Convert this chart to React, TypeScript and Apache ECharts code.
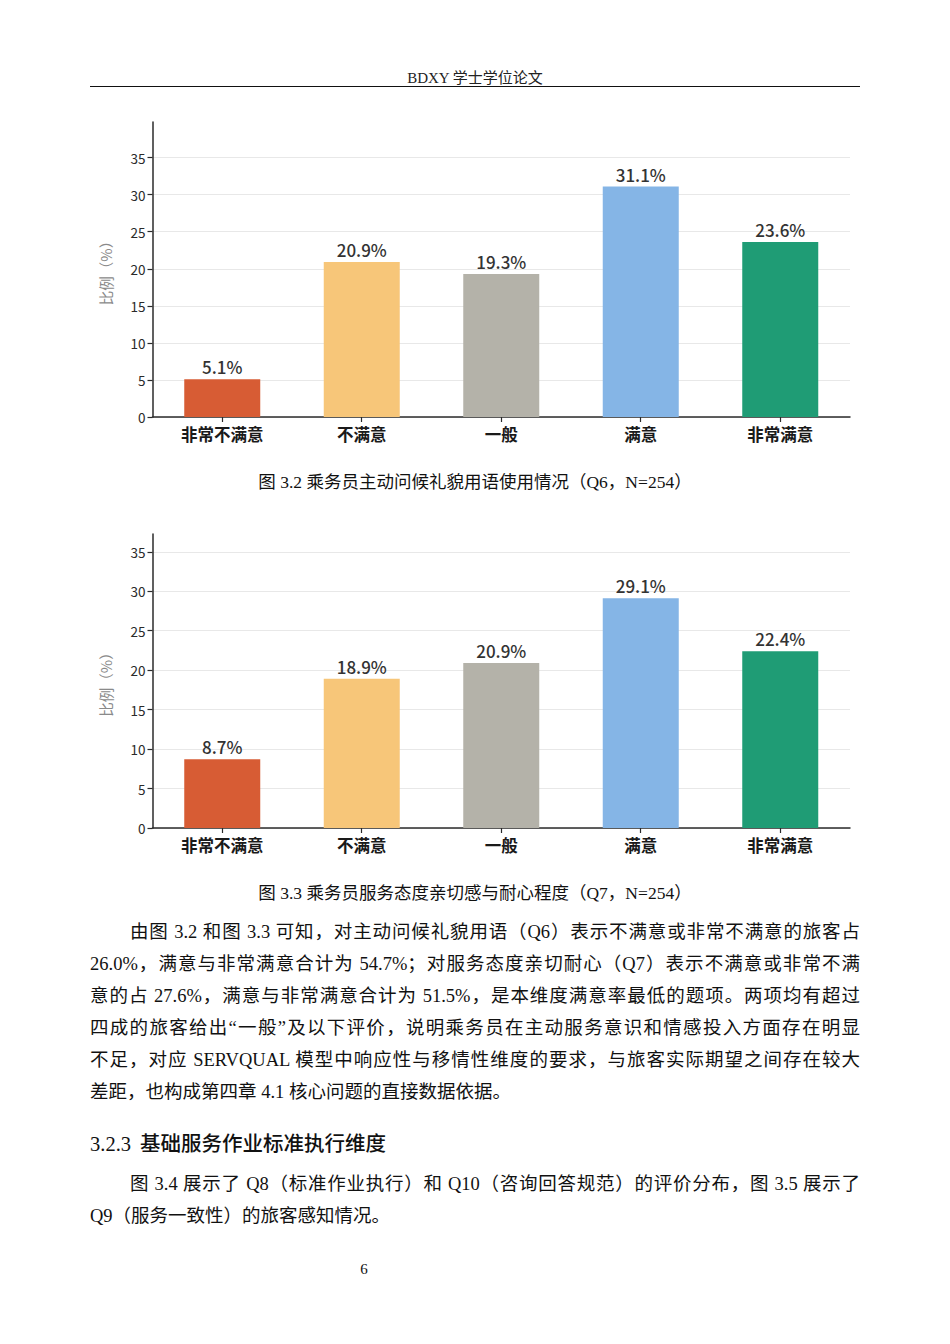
import React, { useEffect, useRef } from 'react';
import * as echarts from 'echarts';

const categories = ['非常不满意', '不满意', '一般', '满意', '非常满意'];
const q6Values = [5.1, 20.9, 19.3, 31.1, 23.6];
const q7Values = [8.7, 18.9, 20.9, 29.1, 22.4];
const barColors = ['#D75C34', '#F7C679', '#B4B2A9', '#85B5E6', '#1F9C75'];
const yTickValues = [0, 5, 10, 15, 20, 25, 30, 35];
const q6AxisMax = 39.8;
const q7AxisMax = 37.25;

const SANS = '"Noto Sans CJK SC", "Noto Sans", sans-serif';
const SERIF = '"Liberation Serif", "Noto Sans CJK SC", serif';

const paragraph1 = [
  '由图 3.2 和图 3.3 可知，对主动问候礼貌用语（Q6）表示不满意或非常不满意的旅客占',
  '26.0%，满意与非常满意合计为 54.7%；对服务态度亲切耐心（Q7）表示不满意或非常不满',
  '意的占 27.6%，满意与非常满意合计为 51.5%，是本维度满意率最低的题项。两项均有超过',
  '四成的旅客给出“一般”及以下评价，说明乘务员在主动服务意识和情感投入方面存在明显',
  '不足，对应 SERVQUAL 模型中响应性与移情性维度的要求，与旅客实际期望之间存在较大',
  '差距，也构成第四章 4.1 核心问题的直接数据依据。',
];
const paragraph2 = [
  '图 3.4 展示了 Q8（标准作业执行）和 Q10（咨询回答规范）的评价分布，图 3.5 展示了',
  'Q9（服务一致性）的旅客感知情况。',
];

function buildOption(values: number[], axisMax: number, gridTop: number, gridBottom: number) {
  return {
    animation: false,
    grid: { left: 60, right: 20, top: gridTop, bottom: gridBottom, containLabel: false },
    xAxis: {
      type: 'category',
      data: categories,
      axisLine: { show: true, lineStyle: { color: '#2b2b2b', width: 1.5 } },
      axisTick: { show: true, alignWithLabel: true, length: 5, lineStyle: { color: '#2b2b2b', width: 1.2 } },
      axisLabel: { color: '#1a1a1a', fontSize: 16.5, fontWeight: 'bold', margin: 9, fontFamily: SANS },
      splitLine: { show: false },
    },
    yAxis: {
      type: 'value',
      min: 0,
      max: axisMax,
      interval: 5,
      name: '比例（%）',
      nameLocation: 'middle',
      nameGap: 40,
      nameTextStyle: { color: '#8a8a8a', fontSize: 14.5, fontFamily: SANS },
      axisLine: { show: true, lineStyle: { color: '#2b2b2b', width: 1.5 } },
      axisTick: { show: true, length: 5, customValues: yTickValues, lineStyle: { color: '#2b2b2b', width: 1.2 } },
      axisLabel: { customValues: yTickValues, color: '#2a2a2a', fontSize: 13.5, margin: 7, fontFamily: SANS },
      splitLine: { show: true, lineStyle: { color: '#e8e8e8', width: 1 } },
    },
    series: [
      {
        type: 'bar',
        barWidth: 76,
        data: values.map((v, i) => ({ value: v, itemStyle: { color: barColors[i] } })),
        label: {
          show: true,
          position: 'top',
          distance: 4,
          formatter: (p: any) => Number(p.value).toFixed(1) + '%',
          color: '#333',
          fontSize: 17,
          fontWeight: 500,
          fontFamily: SANS,
        },
      },
    ],
  };
}

function BarChart({ values, axisMax, top, height, gridTop, gridBottom }: any) {
  const ref = useRef<HTMLDivElement>(null);
  useEffect(() => {
    if (!ref.current) return;
    const chart = echarts.init(ref.current, undefined, { renderer: 'svg' });
    chart.setOption(buildOption(values, axisMax, gridTop, gridBottom));
    return () => chart.dispose();
  }, []);
  return (
    <div
      ref={ref}
      style={{ position: 'absolute', left: 90, top, width: 780, height }}
    />
  );
}

function JustifiedLines({ lines, top, indentFirst }: { lines: string[]; top: number; indentFirst: boolean }) {
  return (
    <>
      {lines.map((line, i) => {
        const last = i === lines.length - 1;
        return (
          <div
            key={i}
            style={{
              position: 'absolute',
              left: 90,
              width: 770,
              top: top + i * 32,
              height: 32,
              lineHeight: '32px',
              fontSize: 18.5,
              fontFamily: SERIF,
              color: '#111',
              whiteSpace: 'nowrap',
              textAlign: last ? 'left' : 'justify',
              textAlignLast: last ? 'left' : 'justify',
              textIndent: indentFirst && i === 0 ? 40 : 0,
            } as any}
          >
            {line}
          </div>
        );
      })}
    </>
  );
}

const captionStyle: any = {
  position: 'absolute', left: 90, width: 770, height: 24, lineHeight: '24px',
  textAlign: 'center', fontSize: 17.5, fontFamily: SERIF, color: '#111', whiteSpace: 'nowrap',
};

export default function App() {
  return (
    <div style={{ position: 'absolute', left: 0, top: 0, width: 950, height: 1344, background: '#fff', overflow: 'hidden' }}>
      <div
        style={{
          position: 'absolute', left: 90, width: 770, top: 68, height: 20, lineHeight: '20px',
          textAlign: 'center', fontSize: 15, fontFamily: SERIF, color: '#222',
        }}
      >
        BDXY 学士学位论文
      </div>
      <div style={{ position: 'absolute', left: 90, top: 86, width: 770, height: 1.3, background: '#111' }} />

      <BarChart values={q6Values} axisMax={q6AxisMax} top={100} height={370} gridTop={22} gridBottom={53} />
      <div style={{ ...captionStyle, top: 470 }}>
        图 3.2 乘务员主动问候礼貌用语使用情况（Q6，N=254）
      </div>

      <BarChart values={q7Values} axisMax={q7AxisMax} top={510} height={370} gridTop={24} gridBottom={52} />
      <div style={{ ...captionStyle, top: 881 }}>
        图 3.3 乘务员服务态度亲切感与耐心程度（Q7，N=254）
      </div>

      <JustifiedLines lines={paragraph1} top={916} indentFirst={true} />

      <div
        style={{
          position: 'absolute', left: 90, top: 1126, height: 32, lineHeight: '32px',
          fontSize: 20.5, color: '#111', whiteSpace: 'nowrap',
        }}
      >
        <span style={{ fontFamily: SERIF }}>3.2.3</span>
        <span style={{ fontFamily: SANS, marginLeft: 9, fontWeight: 500 }}>基础服务作业标准执行维度</span>
      </div>

      <JustifiedLines lines={paragraph2} top={1168} indentFirst={true} />

      <div
        style={{
          position: 'absolute', left: 354, width: 20, top: 1259, height: 20, lineHeight: '20px',
          textAlign: 'center', fontSize: 15, fontFamily: SERIF, color: '#111',
        }}
      >
        6
      </div>
    </div>
  );
}
